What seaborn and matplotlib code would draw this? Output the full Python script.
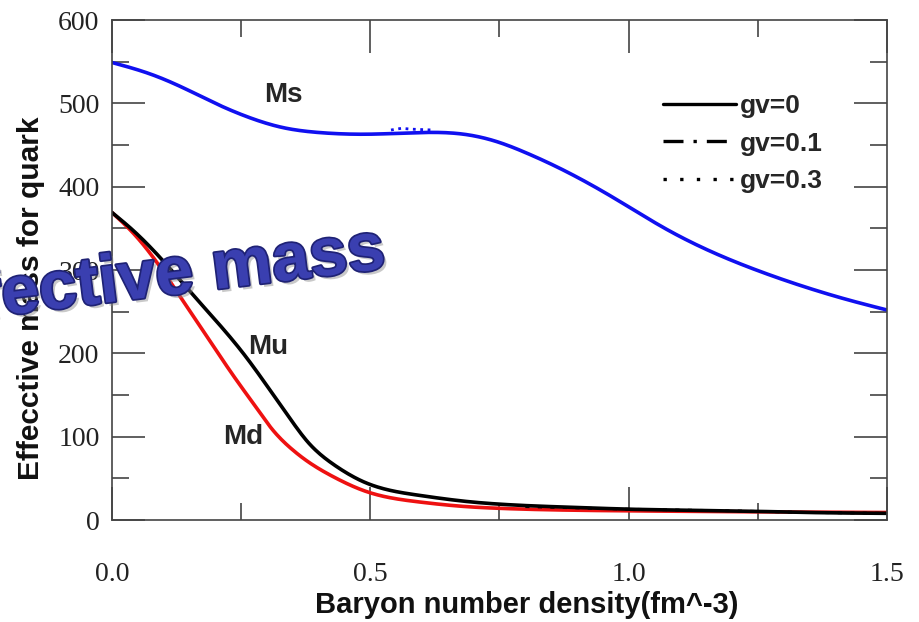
import numpy as np
import pandas as pd
import matplotlib
matplotlib.use("Agg")
import matplotlib.pyplot as plt
import matplotlib.patheffects as pe
from matplotlib.lines import Line2D
from matplotlib.ticker import MultipleLocator
import seaborn as sns

# ---- data ----
ms_x = [0.0, 0.075, 0.14, 0.2, 0.27, 0.33, 0.4, 0.5, 0.6, 0.68, 0.75, 0.8, 0.87, 0.97, 1.07, 1.16, 1.26, 1.36, 1.42, 1.5]
ms_y = [549, 535, 518, 500, 482, 471, 465, 463, 465, 463, 453, 441, 421, 387, 350, 322, 297, 276, 265, 252]

mu_x = [0.0, 0.04, 0.087, 0.157, 0.2, 0.254, 0.3, 0.35, 0.377, 0.428, 0.49, 0.59, 0.69, 0.75, 0.9, 1.0, 1.2, 1.35, 1.5]
mu_y = [369, 348, 319, 270, 240, 200, 161, 117, 95, 67, 45, 30, 22, 19, 15, 13, 11, 9, 8]

md_x = [0.0, 0.04, 0.087, 0.132, 0.184, 0.234, 0.286, 0.306, 0.35, 0.377, 0.428, 0.493, 0.59, 0.687, 0.75, 1.0, 1.2, 1.5]
md_y = [369, 345, 309, 268, 220, 174, 129, 112, 84, 71, 52, 34, 22, 16, 14, 11, 10, 9]

# small visible pieces of the gv=0.1 / gv=0.3 curves
ms_g03_x = [0.54, 0.56, 0.58, 0.62]
ms_g03_y = [468, 470, 469, 468]
mu_g03_x = [0.8, 1.0, 1.2, 1.35, 1.5]
mu_g03_y = [16, 13, 11, 9, 8]

legend_labels = ["gv=0", "gv=0.1", "gv=0.3"]
x_ticks = [0.0, 0.5, 1.0, 1.5]
y_ticks = [0, 100, 200, 300, 400, 500, 600]

sns.set_style("ticks")
plt.rcParams["font.family"] = ["Liberation Sans", "DejaVu Sans"]

fig = plt.figure(figsize=(9.2, 6.22), dpi=100)
ax = fig.add_axes([112 / 920, 102 / 622, 775 / 920, 500 / 622])


def smooth(xs, ys, n=500):
    """natural cubic spline through the read points (display only)"""
    x = np.asarray(xs, float)
    y = np.asarray(ys, float)
    k = len(x)
    h = np.diff(x)
    A = np.zeros((k, k))
    b = np.zeros(k)
    A[0, 0] = A[-1, -1] = 1
    for i in range(1, k - 1):
        A[i, i - 1] = h[i - 1]
        A[i, i] = 2 * (h[i - 1] + h[i])
        A[i, i + 1] = h[i]
        b[i] = 3 * ((y[i + 1] - y[i]) / h[i] - (y[i] - y[i - 1]) / h[i - 1])
    c = np.linalg.solve(A, b)
    bb = (y[1:] - y[:-1]) / h - h * (2 * c[:-1] + c[1:]) / 3
    d = (c[1:] - c[:-1]) / (3 * h)
    xf = np.linspace(x[0], x[-1], n)
    idx = np.clip(np.searchsorted(x, xf) - 1, 0, k - 2)
    t = xf - x[idx]
    yf = y[idx] + bb[idx] * t + c[idx] * t**2 + d[idx] * t**3
    return xf, yf


for xs, ys, col in [(ms_x, ms_y, "#1010f0"), (md_x, md_y, "#ee1111"), (mu_x, mu_y, "#000000")]:
    xf, yf = smooth(xs, ys)
    sns.lineplot(x=xf, y=yf, ax=ax, color=col, lw=2.6, sort=False, estimator=None)

sns.lineplot(x=ms_g03_x, y=ms_g03_y, ax=ax, color="#1010f0", lw=2.0, linestyle=":", estimator=None)
sns.lineplot(x=mu_g03_x, y=mu_g03_y, ax=ax, color="#000000", lw=2.0, linestyle=(0, (1.5, 3)), estimator=None)

ax.set_xlim(0, 1.5)
ax.set_ylim(0, 600)
ax.set_xticks(x_ticks)
ax.set_yticks(y_ticks)
ax.set_xticklabels([f"{v:.1f}" for v in x_ticks])
ax.set_yticklabels([str(v) for v in y_ticks])
ax.xaxis.set_minor_locator(MultipleLocator(0.25))
ax.yaxis.set_minor_locator(MultipleLocator(50))

for side in ["left", "right", "top", "bottom"]:
    ax.spines[side].set_visible(True)
    ax.spines[side].set_color("#444444")
    ax.spines[side].set_linewidth(1.2)

ax.tick_params(which="both", direction="in", top=True, right=True, color="#444444", width=1.2)
ax.tick_params(which="major", length=24)
ax.tick_params(which="minor", length=12.5)
for lab in ax.get_xticklabels() + ax.get_yticklabels():
    lab.set_fontfamily(["Liberation Serif", "DejaVu Serif"])
    lab.set_fontsize(20)
    lab.set_color("#222222")
ax.tick_params(axis="x", pad=30)
ax.tick_params(axis="y", pad=9)

fig.text(527 / 920, 1 - 605 / 622, "Baryon number density(fm^-3)", ha="center", va="center",
         fontsize=21, fontweight="bold", color="#111111")
fig.text(31 / 920, 1 - 298 / 622, "Effecctive mass for quark", ha="center", va="center",
         rotation=90, fontsize=21.5, fontweight="bold", color="#111111")

ax.text(0.331, 510, "Ms", fontsize=20, fontweight="bold", ha="center", va="center")
ax.text(0.302, 207, "Mu", fontsize=20, fontweight="bold", ha="center", va="center")
ax.text(0.254, 100, "Md", fontsize=20, fontweight="bold", ha="center", va="center")

handles = [Line2D([], [], color="black", lw=2.4, linestyle="-"),
           Line2D([], [], color="black", lw=2.4, linestyle=(0, (6, 3, 1, 3))),
           Line2D([], [], color="black", lw=2.4, linestyle=(0, (1, 4)))]
leg = ax.legend(handles, legend_labels, loc="upper left", bbox_to_anchor=(663 / 920, 1 - 94 / 622),
                bbox_transform=fig.transFigure, frameon=False, borderpad=0, borderaxespad=0,
                handlelength=2.75, handletextpad=0.15, labelspacing=0.52,
                prop={"weight": "bold", "size": 19})

t = fig.text(387 / 920, 1 - 268 / 622, "effective mass", ha="right", va="baseline",
             rotation=7, rotation_mode="anchor", fontsize=49, fontweight="bold",
             color="#3a3fb0", zorder=10)
t.set_path_effects([pe.SimplePatchShadow(offset=(2.5, -2.5), shadow_rgbFace="#888888", alpha=0.45),
                    pe.withStroke(linewidth=2.5, foreground="#1f2275")])

fig.savefig("out.png", dpi=100)
